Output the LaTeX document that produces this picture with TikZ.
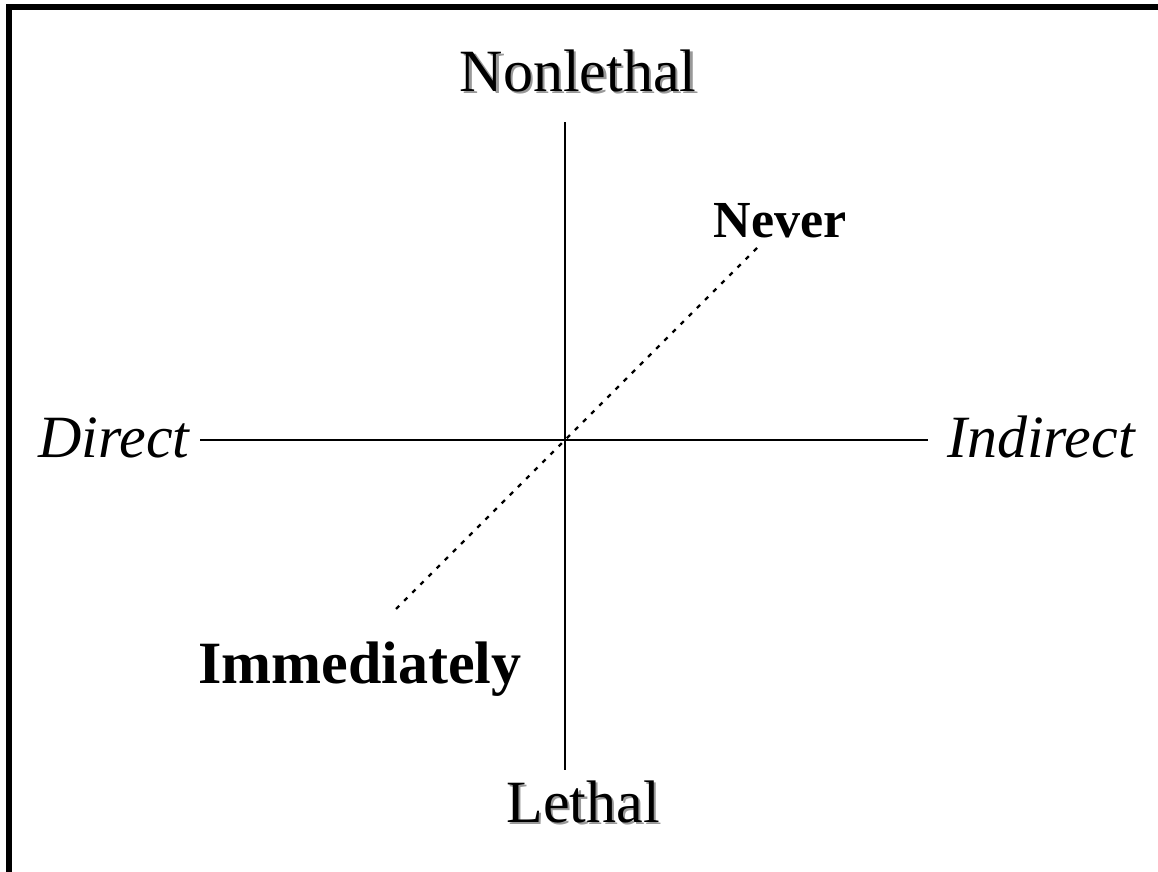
\documentclass[tikz,border=0pt]{standalone}
\usepackage{fontspec}
\setmainfont{Liberation Serif}
\tikzset{
  lbl/.style={inner sep=0pt, anchor=base, font=\fontsize{60}{72}\selectfont},
  lblb/.style={lbl, font=\fontsize{60}{72}\selectfont\bfseries},
  lbli/.style={lbl, font=\fontsize{60}{72}\selectfont\itshape},
  shadowlbl/.style={lbl, text=gray!80},
  axis/.style={line width=2pt},
  diag/.style={line width=2.4pt, dash pattern=on 4.5pt off 7pt},
  frame/.style={line width=6pt}
}
\begin{document}
\begin{tikzpicture}[x=1pt,y=-1pt]
\useasboundingbox (0,0) rectangle (1158,871);
\fill[white] (0,0) rectangle (1158,871);
\draw[frame] (8.5,880) -- (8.5,7) -- (1165,7);
% axes
\coordinate (vtop) at (565,122);
\coordinate (vbot) at (565,770);
\coordinate (hl) at (200,440);
\coordinate (hr) at (928,440);
\coordinate (dne) at (757,248);
\coordinate (dsw) at (393,612);
\draw[axis] (vtop) -- (vbot);
\draw[axis] (hl) -- (hr);
\draw[diag] (dne) -- (dsw);
% labels
\node[shadowlbl] (nonlethalS) at (580.5,93.5) {Nonlethal};
\node[lbl] (nonlethal) at (578,91) {Nonlethal};
\node[shadowlbl] (lethalS) at (585.5,824.5) {Lethal};
\node[lbl] (lethal) at (583,822) {Lethal};
\node[lbli] (direct) at (114,457) {Direct};
\node[lbli] (indirect) at (1041,457) {Indirect};
\node[lblb, font=\fontsize{52}{62}\selectfont\bfseries] (never) at (780,237) {Never};
\node[lblb] (immed) at (360,683) {Immediately};
\end{tikzpicture}
\end{document}
